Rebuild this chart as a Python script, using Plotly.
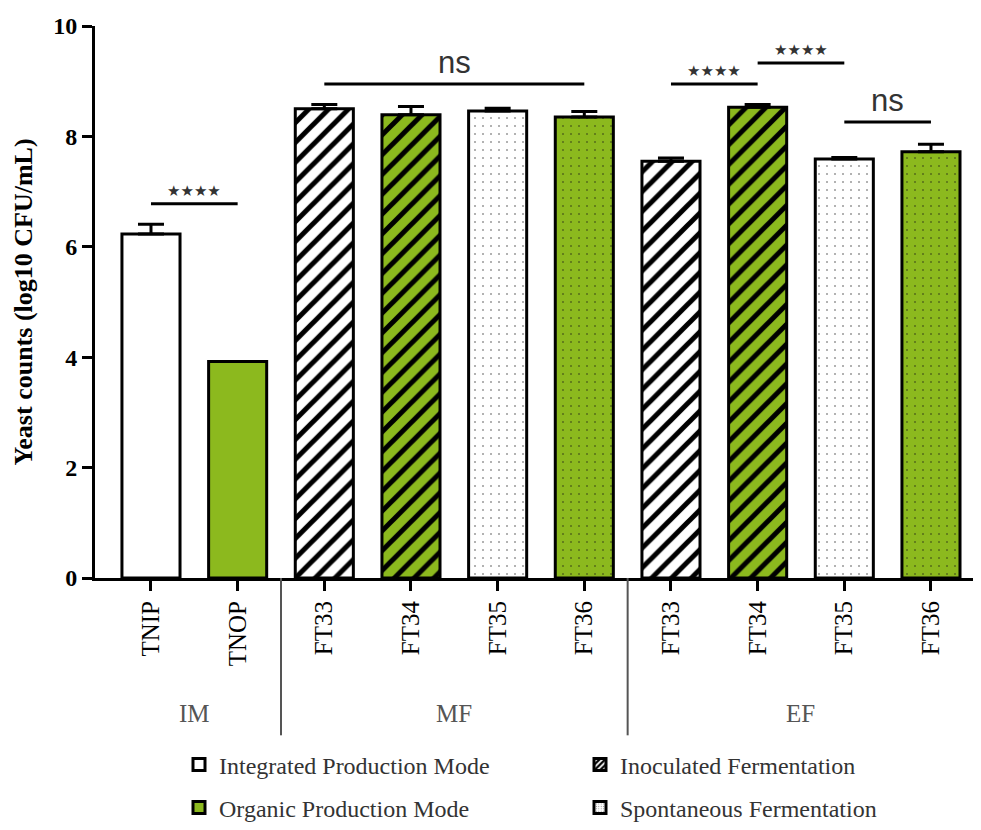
import plotly.graph_objects as go

# ---------------- data ----------------
categories = ["TNIP", "TNOP", "FT33", "FT34", "FT35", "FT36", "FT33", "FT34", "FT35", "FT36"]
means = [6.23, 3.92, 8.50, 8.39, 8.46, 8.35, 7.55, 8.53, 7.59, 7.72]
errors = [0.18, 0.0, 0.08, 0.15, 0.05, 0.10, 0.06, 0.05, 0.03, 0.14]
groups = ["IM", "MF", "EF"]
group_members = [[0, 1], [2, 3, 4, 5], [6, 7, 8, 9]]
# significance comparisons: (from index, to index, height, label)
sig_from = [0, 2, 6, 7, 8]
sig_to = [1, 5, 7, 8, 9]
sig_height = [6.78, 8.95, 8.95, 9.33, 8.26]
sig_label = ["****", "ns", "****", "****", "ns"]
legend_names = ["Integrated Production Mode", "Inoculated Fermentation",
                "Organic Production Mode", "Spontaneous Fermentation"]
y_ticks = [0, 2, 4, 6, 8, 10]

# ---------------- styles ----------------
GREEN = "#8CB91E"
bar_bg = ["white", GREEN, "white", GREEN, "white", GREEN, "white", GREEN, "white", GREEN]
bar_shape = ["", "", "/", "/", ".", ".", "/", "/", ".", "."]
bar_fg = ["black", "black", "black", "black", "#999", "#556b1a", "black", "black", "#999", "#556b1a"]

SERIF = "Liberation Serif"
OFF = 8  # page body margin offset compensation
W, H = 981 - OFF, 830 - OFF
x_pos = list(range(len(categories)))

fig = go.Figure()
for i in x_pos:
    shp = bar_shape[i]
    if shp == "/":
        pat = dict(shape="/", fgcolor=bar_fg[i], bgcolor=bar_bg[i], size=14, solidity=0.36,
                   fillmode="overlay", fgopacity=1)
    elif shp == ".":
        pat = dict(shape=".", fgcolor=bar_fg[i], bgcolor=bar_bg[i], size=8, solidity=0.05,
                   fillmode="overlay", fgopacity=1)
    else:
        pat = dict(shape="")
    fig.add_trace(go.Bar(
        x=[x_pos[i]], y=[means[i]], width=0.67,
        marker=dict(color=bar_bg[i], line=dict(color="black", width=3), pattern=pat),
        error_y=dict(type="data", array=[errors[i]], arrayminus=[0],
                     color="black", thickness=3, width=13, visible=errors[i] > 0),
        showlegend=False, hoverinfo="skip"))

# legend-only entries
leg_styles = [
    dict(color="white", pattern=dict(shape="")),
    dict(color="white", pattern=dict(shape="/", fgcolor="black", bgcolor="white", size=5,
                                     solidity=0.55, fillmode="overlay", fgopacity=1)),
    dict(color=GREEN, pattern=dict(shape="")),
    dict(color="white", pattern=dict(shape=".", fgcolor="#888", bgcolor="white", size=3,
                                     solidity=0.15, fillmode="overlay", fgopacity=1)),
]
for i, (name, st) in enumerate(zip(legend_names, leg_styles)):
    fig.add_trace(go.Bar(
        x=[None], y=[None], name=name,
        marker=dict(line=dict(color="black", width=3), **st),
        legend="legend" if i < 2 else "legend2", showlegend=True))

# significance bars
for a, b, h, lab in zip(sig_from, sig_to, sig_height, sig_label):
    fig.add_shape(type="line", xref="x", yref="y", x0=a, x1=b, y0=h, y1=h,
                  line=dict(color="black", width=3))
    if lab == "ns":
        fig.add_annotation(x=(a + b) / 2, y=h, xref="x", yref="y", text=lab, showarrow=False,
                           yanchor="bottom", yshift=2,
                           font=dict(family="Liberation Sans", size=31, color="#333"))
    else:
        fig.add_annotation(x=(a + b) / 2, y=h, xref="x", yref="y", text="★★★★", showarrow=False,
                           yanchor="bottom", yshift=2,
                           font=dict(family="DejaVu Sans", size=15, color="#333"))

# group labels and separators
for g, members in zip(groups, group_members):
    cx = (members[0] + members[-1]) / 2
    fig.add_annotation(x=cx, y=-0.245, xref="x", yref="paper", text=g, showarrow=False,
                       yanchor="middle", font=dict(family=SERIF, size=25, color="#555"))
for members in group_members[1:]:
    sx = members[0] - 0.5
    fig.add_shape(type="line", xref="x", yref="paper", x0=sx, x1=sx, y0=0, y1=-0.285,
                  line=dict(color="#555", width=2))

legend_common = dict(orientation="h", xref="container", yref="container", x=171 / W,
                     xanchor="left", yanchor="middle", entrywidth=356, entrywidthmode="pixels",
                     font=dict(family=SERIF, size=24, color="#333"), bgcolor="rgba(0,0,0,0)")

fig.update_layout(
    width=W, height=H,
    margin=dict(l=95 - OFF, r=6, t=26 - OFF, b=252),
    plot_bgcolor="white", paper_bgcolor="white",
    barmode="overlay",
    xaxis=dict(range=[-0.646, 9.508], tickmode="array", tickvals=x_pos, ticktext=categories,
               tickangle=-90, showline=True, linecolor="black", linewidth=3,
               ticks="outside", ticklen=10, tickwidth=3, tickcolor="black",
               showgrid=False, zeroline=False,
               tickfont=dict(family=SERIF, size=25, color="black")),
    yaxis=dict(range=[0, 10], tickvals=y_ticks, showline=True, linecolor="black", linewidth=3,
               ticks="outside", ticklen=10, tickwidth=3, tickcolor="black",
               showgrid=False, zeroline=False,
               tickfont=dict(family=SERIF, size=24, color="black", weight="bold"),
               title=dict(text="Yeast counts (log10 CFU/mL)", standoff=14,
                          font=dict(family=SERIF, size=26, color="black", weight="bold"))),
    legend=dict(y=1 - (765 - OFF) / H, **legend_common),
    legend2=dict(y=1 - (808 - OFF) / H, **legend_common),
)

fig.write_html("out.html")
